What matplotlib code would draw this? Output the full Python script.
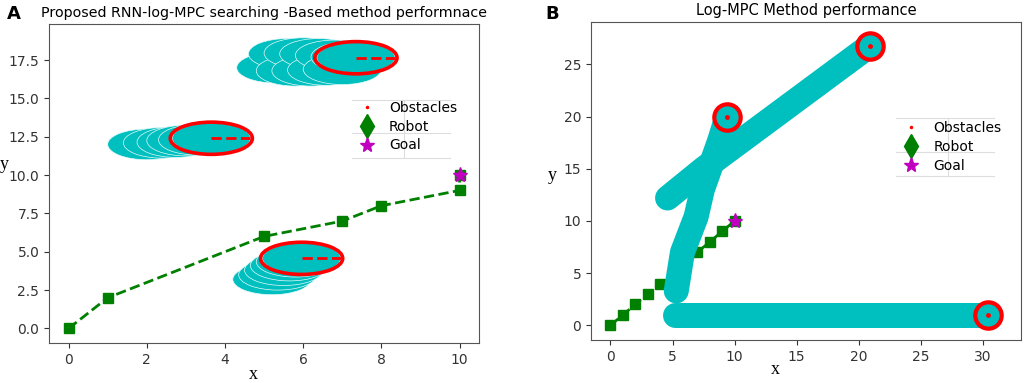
"""Two-panel obstacle-avoidance comparison: RNN-log-MPC (A) vs Log-MPC (B)."""
import numpy as np, matplotlib; matplotlib.use("Agg")
import matplotlib.pyplot as plt
from matplotlib.patches import Circle
from matplotlib.lines import Line2D

plt.rcParams.update({"font.family": "DejaVu Sans", "font.size": 10})

# ---- panel A data ----
robot_a_x = [0, 1, 5, 7, 8, 10, 10]
robot_a_y = [0, 2, 6, 7, 8, 9, 10]
goal_a = (10, 10)
obs_r = 1.0
obs1_x = [5.3, 5.6, 5.8, 6.0, 6.2, 6.4, 6.6, 6.8, 7.0, 7.2, 7.35]
obs1_y = [17.0, 17.9, 16.8, 17.95, 16.8, 17.9, 16.85, 17.8, 16.9, 17.7, 17.65]
obs2_x = [2.0, 2.4, 2.75, 3.0, 3.3, 3.65]
obs2_y = [12.0, 12.1, 12.15, 12.25, 12.3, 12.4]
obs3_x = [5.2, 5.35, 5.5, 5.65, 5.8, 5.96]
obs3_y = [3.2, 3.5, 3.8, 4.1, 4.35, 4.57]

# ---- panel B data ----
robot_b_x = [0, 1, 2, 3, 4, 5, 6, 7, 8, 9, 10]
robot_b_y = [0, 1, 2, 3, 4, 5, 6, 7, 8, 9, 10]
goal_b = (10, 10)
trail1_x = [5.3, 5.8, 6.9, 7.4, 8.8, 9.4]
trail1_y = [3.3, 7.0, 10.4, 13.0, 17.7, 20.0]
trail2_x = [4.6, 7.5, 20.9]
trail2_y = [12.2, 15.0, 26.8]
trail3_x = [5.2, 30.4]
trail3_y = [1.0, 1.0]

fig = plt.figure(figsize=(10.24, 3.83), dpi=100)
axA = fig.add_axes([0.0479, 0.1044, 0.42, 0.833])
axB = fig.add_axes([0.5771, 0.1123, 0.42, 0.830])

def legend_with_lines(ax, anchor, lines_x, lines_y, vx):
    h = [Line2D([], [], color="r", marker=".", ls="", ms=3),
         Line2D([], [], color="g", marker="d", ls="", ms=12),
         Line2D([], [], color="m", marker="*", ls="", ms=11)]
    ax.legend(h, ["Obstacles", "Robot", "Goal"], loc="upper left", bbox_to_anchor=anchor,
              frameon=False, handletextpad=0.6, labelspacing=0.35, fontsize=10, borderpad=0.2)
    for yy in lines_y:
        ax.plot(lines_x, [yy, yy], transform=ax.transAxes, color="#dddddd", lw=0.8, zorder=1)
    ax.plot([vx, vx], [lines_y[-1], lines_y[0]], transform=ax.transAxes, color="#dddddd", lw=0.8, zorder=1)

# ---------------- A ----------------
for xs, ys in [(obs1_x, obs1_y), (obs2_x, obs2_y), (obs3_x, obs3_y)]:
    for cx, cy in zip(xs, ys):
        axA.add_patch(Circle((cx, cy), obs_r, facecolor="c", edgecolor="#e6fafa", lw=0.5, zorder=2))
    axA.add_patch(Circle((xs[-1], ys[-1]), obs_r * 1.05, fill=False, edgecolor="r", lw=2.6, zorder=4))
    axA.plot([xs[-1], xs[-1] + obs_r], [ys[-1], ys[-1]], "r--", lw=2, zorder=4)
axA.plot(robot_a_x, robot_a_y, "g--", marker="s", ms=6.5, lw=2, zorder=3)
axA.plot(*goal_a, "m*", ms=11, zorder=5)
axA.set_xlim(-0.5, 10.5); axA.set_ylim(-0.95, 19.85)
axA.set_xticks(range(0, 11, 2))
axA.set_yticks(np.arange(0, 18, 2.5))
axA.yaxis.set_major_formatter(matplotlib.ticker.FormatStrFormatter("%.1f"))
axA.set_title("Proposed RNN-log-MPC searching -Based method performnace", fontsize=10.3, pad=5)
legend_with_lines(axA, (0.684, 0.79), [0.705, 0.933], [0.762, 0.658, 0.58], 0.826)

# ---------------- B ----------------
axB.plot(robot_b_x, robot_b_y, "g--", marker="s", ms=6.5, lw=2, zorder=2)
axB.plot(*goal_b, "m*", ms=11, zorder=2)
for xs, ys in [(trail1_x, trail1_y), (trail2_x, trail2_y), (trail3_x, trail3_y)]:
    axB.plot(xs, ys, color="c", lw=18, solid_capstyle="round", solid_joinstyle="round", zorder=3)
    axB.plot(xs[-1], ys[-1], "o", ms=19, mfc="c", mec="r", mew=3, zorder=4)
    axB.plot(xs[-1], ys[-1], "r.", ms=5, zorder=5)
axB.set_xlim(-1.57, 33.07); axB.set_ylim(-1.4, 29.05)
axB.set_xticks(range(0, 31, 5)); axB.set_yticks(range(0, 26, 5))
axB.set_title("Log-MPC Method performance", fontsize=10.5, pad=5)
legend_with_lines(axB, (0.69, 0.72), [0.709, 0.937], [0.698, 0.591, 0.516], 0.83)

for ax, ylc, xlc in [(axA, (-0.104, 0.56), (0.474, -0.1)), (axB, (-0.091, 0.516), (0.428, -0.094))]:
    ax.set_ylabel("y", rotation=0, family="Liberation Serif", fontsize=13)
    ax.set_xlabel("x", family="Liberation Serif", fontsize=13)
    ax.yaxis.set_label_coords(*ylc); ax.xaxis.set_label_coords(*xlc)
    ax.xaxis.label.set_va("center"); ax.yaxis.label.set_va("center")
    for s in ax.spines.values():
        s.set_color("#555555")
    ax.tick_params(colors="#333333", labelsize=10)

fig.text(7 / 1024, 1 - 5 / 383, "A", fontsize=13, fontweight="bold", va="top")
fig.text(545 / 1024, 1 - 5 / 383, "B", fontsize=13, fontweight="bold", va="top")
fig.savefig("out.png", dpi=100)
